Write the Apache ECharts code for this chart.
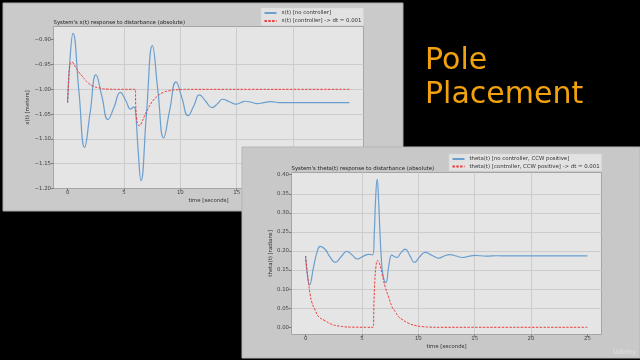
<!DOCTYPE html>
<html><head><meta charset="utf-8">
<script src="https://cdn.jsdelivr.net/npm/echarts@6/dist/echarts.min.js"></script>
<style>html,body{margin:0;padding:0;background:#000;}#c{width:640px;height:360px;}</style>
</head><body><div id="c"></div>
<script>
// ---- Left chart: x(t) [meters] vs time [seconds]
const xFreeT = [0, 0.22, 0.48, 1.0, 1.51, 2.0, 2.52, 3.05, 3.58, 4.12, 4.68, 5.15, 5.6, 5.85, 6.0, 6.25, 6.51, 7.0, 7.52, 8.02, 8.52, 9.05, 9.62, 10.15, 10.68, 11.2, 11.69, 12.25, 12.81, 13.3, 13.75, 14.35, 14.94, 15.35, 15.77, 16.3, 16.8, 17.4, 18.0, 19.0, 20.0, 22.0, 25.0];
const xFreeV = [-1.027, -0.937, -0.887, -1.003, -1.117, -1.047, -0.971, -1.015, -1.061, -1.036, -1.006, -1.022, -1.040, -1.036, -1.039, -1.120, -1.184, -1.048, -0.912, -1.005, -1.098, -1.043, -0.985, -1.018, -1.053, -1.033, -1.011, -1.024, -1.037, -1.029, -1.020, -1.025, -1.030, -1.027, -1.024, -1.026, -1.029, -1.027, -1.025, -1.027, -1.027, -1.027, -1.027];
const xCtrlT = [0, 0.09, 0.18, 0.39, 0.68, 0.98, 1.28, 1.57, 1.87, 2.3, 2.75, 3.5, 4.5, 6.0, 6.05, 6.12, 6.22, 6.38, 6.55, 6.8, 7.19, 7.6, 8.08, 8.5, 8.97, 9.6, 10.5, 25];
const xCtrlV = [-1.027, -0.985, -0.955, -0.945, -0.954, -0.965, -0.973, -0.981, -0.988, -0.994, -0.997, -0.9995, -1.0, -1.0, -1.035, -1.058, -1.07, -1.0735, -1.068, -1.055, -1.037, -1.022, -1.012, -1.006, -1.003, -1.001, -1.0, -1.0];
// ---- Right chart: theta(t) [radians] vs time [seconds]
const thFreeT = [0, 0.15, 0.35, 0.7, 1.0, 1.3, 1.75, 2.15, 2.63, 3.15, 3.66, 4.15, 4.6, 5.1, 5.6, 5.95, 6.1, 6.2, 6.35, 6.48, 6.58, 6.7, 6.85, 7.12, 7.4, 7.65, 7.9, 8.1, 8.45, 8.83, 9.25, 9.66, 10.1, 10.6, 11.2, 11.8, 12.3, 12.8, 13.35, 13.9, 14.45, 15.0, 16.0, 17.0, 18.0, 20.0, 25.0];
const thFreeV = [0.187, 0.14, 0.111, 0.157, 0.195, 0.212, 0.204, 0.185, 0.170, 0.185, 0.199, 0.189, 0.179, 0.186, 0.191, 0.19, 0.25, 0.33, 0.388, 0.33, 0.26, 0.19, 0.14, 0.117, 0.165, 0.189, 0.185, 0.183, 0.195, 0.205, 0.188, 0.170, 0.184, 0.1965, 0.189, 0.1815, 0.187, 0.1905, 0.187, 0.183, 0.186, 0.1886, 0.1865, 0.1875, 0.187, 0.187, 0.187];
const thCtrlT = [0, 0.12, 0.27, 0.41, 0.56, 0.85, 1.15, 1.74, 2.3, 3.0, 4.0, 6.0, 6.06, 6.14, 6.24, 6.38, 6.55, 6.77, 7.06, 7.36, 7.65, 7.95, 8.24, 8.54, 9.13, 9.7, 10.3, 11.0, 12.0, 25.0];
const thCtrlV = [0.187, 0.150, 0.115, 0.085, 0.065, 0.045, 0.028, 0.017, 0.008, 0.003, 0.0005, 0.0, 0.06, 0.12, 0.158, 0.175, 0.168, 0.1415, 0.106, 0.080, 0.055, 0.041, 0.028, 0.021, 0.0105, 0.005, 0.002, 0.0005, 0.0, 0.0];
// ---- tick labels
const timeTicks = [0, 5, 10, 15, 20, 25];
const xTicks = [-1.20, -1.15, -1.10, -1.05, -1.00, -0.95, -0.90];
const thTicks = [0.00, 0.05, 0.10, 0.15, 0.20, 0.25, 0.30, 0.35, 0.40];
// ---- names
const xNames = ['x(t) [no controller]', 'x(t) [controller] -> dt = 0.001'];
const thNames = ['theta(t) [no controller, CCW positive]', 'theta(t) [controller, CCW positive] -> dt = 0.001'];
const titles = ["System's x(t) response to distarbance (absolute)", "System's theta(t) response to distarbance (absolute)"];

const FONT = 'DejaVu Sans';
const FS = 5.4;
const BLUE = '#6a9fd0';
const RED = '#ee3a3a';
function pairs(t, v) { return t.map((x, i) => [x, v[i]]); }
function pick(list, fmt) {
  return function (v) {
    for (const t of list) if (Math.abs(t - v) < 1e-6) return fmt(t);
    return '';
  };
}
const fmtTime = pick(timeTicks, t => String(t));
const fmtX = pick(xTicks, t => (t < 0 ? '\u2212' : '') + Math.abs(t).toFixed(2));
const fmtTh = pick(thTicks, t => t.toFixed(2));

function xAx(gi, zl, min, max) {
  return {
    type: 'value', gridIndex: gi, zlevel: zl, z: 2, min: min, max: max, splitNumber: 5,
    name: 'time [seconds]', nameLocation: 'middle', nameGap: 9.2,
    nameTextStyle: { fontFamily: FONT, fontSize: FS, color: '#333' },
    axisLine: { show: false, onZero: false },
    axisTick: { show: true, length: 2.5, customValues: timeTicks, lineStyle: { color: '#666', width: 0.8 } },
    axisLabel: { show: true, margin: 2, customValues: timeTicks, formatter: fmtTime, fontFamily: FONT, fontSize: FS, color: '#444' },
    splitLine: { show: true, showMinLine: false, showMaxLine: false, lineStyle: { color: '#cccccc', width: 1 } }
  };
}
function yAx(gi, zl, min, max, name, gap, ticks, fmt) {
  return {
    type: 'value', gridIndex: gi, zlevel: zl, z: 2, min: min, max: max, splitNumber: 8,
    name: name, nameLocation: 'middle', nameGap: gap, nameRotate: 90,
    nameTextStyle: { fontFamily: FONT, fontSize: FS, color: '#333' },
    axisLine: { show: false, onZero: false },
    axisTick: { show: true, length: 2.5, customValues: ticks, lineStyle: { color: '#666', width: 0.8 } },
    axisLabel: { show: true, margin: 2.5, customValues: ticks, formatter: fmt, fontFamily: FONT, fontSize: FS, color: '#444' },
    splitLine: { show: true, showMinLine: false, showMaxLine: false, lineStyle: { color: '#cccccc', width: 1 } }
  };
}
function lineSeries(name, t, v, xi, yi, zl, dashed) {
  return {
    type: 'line', name: name, xAxisIndex: xi, yAxisIndex: yi, zlevel: zl, z: 3,
    data: pairs(t, v), symbol: 'none', showSymbol: false, smooth: 0.5,
    lineStyle: dashed ? { color: RED, width: 1, type: [2.4, 1.4] } : { color: BLUE, width: 1.2 },
    itemStyle: { color: dashed ? RED : BLUE },
    animation: false
  };
}
function legendCfg(names, left, top, zl, gap) {
  return {
    data: names, orient: 'vertical', left: left, top: top, zlevel: zl, z: 6,
    itemWidth: 12, itemHeight: 5, itemGap: gap, padding: [2.5, 2, 2, 2.5],
    backgroundColor: '#e2e2e2', borderColor: '#d6d6d6', borderWidth: 0.5, borderRadius: 1,
    itemStyle: { opacity: 0, borderWidth: 0 },
    textStyle: { fontFamily: FONT, fontSize: FS, color: '#333' }, selectedMode: false
  };
}
const titleStyle = { fontFamily: FONT, fontSize: FS, fontWeight: 'normal', color: '#222' };

const chart = echarts.init(document.getElementById('c'), null, { renderer: 'canvas' });
chart.setOption({
  backgroundColor: '#000',
  animation: false,
  title: [
    { text: titles[0], left: 53.5, top: 19.8, padding: 0, textStyle: titleStyle, zlevel: 0, z: 6 },
    { text: titles[1], left: 291.5, top: 165.6, padding: 0, textStyle: titleStyle, zlevel: 1, z: 6 }
  ],
  legend: [legendCfg(xNames, 261, 8, 0, 3), legendCfg(thNames, 449, 154, 1, 2.4)],
  grid: [
    { left: 53.5, top: 26.5, width: 310, height: 162, show: true, backgroundColor: '#e5e5e5', borderColor: '#a5a5a5', borderWidth: 1, zlevel: 0, z: 0 },
    { left: 291.5, top: 172.5, width: 310, height: 162, show: true, backgroundColor: '#e5e5e5', borderColor: '#a5a5a5', borderWidth: 1, zlevel: 1, z: 0 }
  ],
  xAxis: [xAx(0, 0, -1.25, 26.25), xAx(1, 1, -1.25, 26.25)],
  yAxis: [
    yAx(0, 0, -1.2, -0.8733, 'x(t) [meters]', 20.8, xTicks, fmtX),
    yAx(1, 1, -0.0189, 0.4058, 'theta(t) [radians]', 16, thTicks, fmtTh)
  ],
  series: [
    lineSeries(xNames[0], xFreeT, xFreeV, 0, 0, 0, false),
    lineSeries(xNames[1], xCtrlT, xCtrlV, 0, 0, 0, true),
    lineSeries(thNames[0], thFreeT, thFreeV, 1, 1, 1, false),
    lineSeries(thNames[1], thCtrlT, thCtrlV, 1, 1, 1, true)
  ],
  graphic: {
    elements: [
      { type: 'rect', zlevel: 0, z: -10, silent: true, shape: { x: 3, y: 3, width: 400, height: 208 }, style: { fill: '#cacaca', stroke: '#a9a9a9', lineWidth: 1 } },
      { type: 'rect', zlevel: 1, z: -10, silent: true, shape: { x: 242, y: 147, width: 398, height: 211 }, style: { fill: '#c8c8c8', stroke: '#b5b5b5', lineWidth: 1 } },
      { type: 'text', zlevel: 0, z: 5, silent: true, style: { text: 'Pole', x: 425, y: 46.3, font: '30px "DejaVu Sans"', fill: '#f2a20d', verticalAlign: 'top' } },
      { type: 'text', zlevel: 0, z: 5, silent: true, style: { text: 'Placement', x: 425, y: 80.6, font: '30px "DejaVu Sans"', fill: '#f2a20d', verticalAlign: 'top' } },
      { type: 'text', zlevel: 1, z: 10, silent: true, style: { text: 'Udemy', x: 624.5, y: 352.3, font: '6.5px "DejaVu Sans"', fill: 'rgba(255,255,255,0.45)', align: 'center', verticalAlign: 'middle' } }
    ]
  }
});
</script>
</body></html>
